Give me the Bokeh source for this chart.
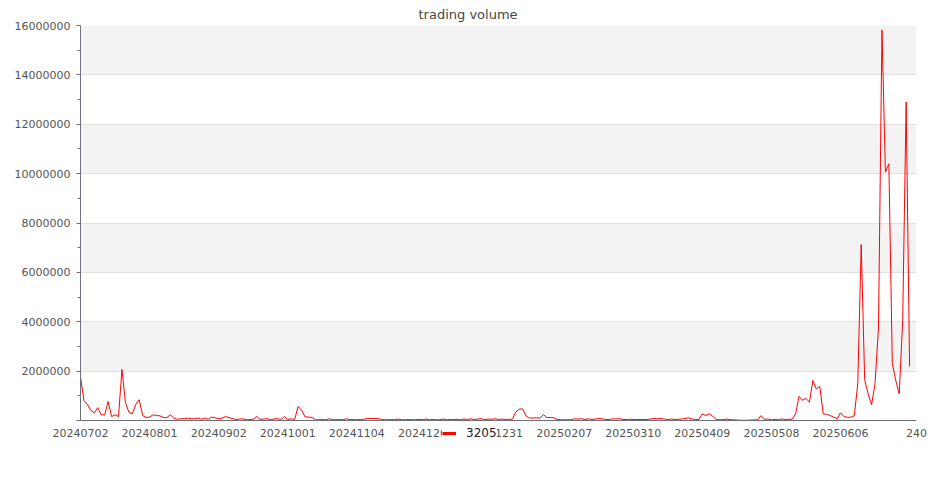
from bokeh.plotting import figure
from bokeh.models import (FixedTicker, Range1d, Legend, LegendItem, Span,
                          BoxAnnotation, ColumnDataSource, BasicTickFormatter)
from bokeh.embed import file_html
from bokeh.resources import INLINE

series_name = "3205"
title_text = "trading volume"

tick_index = [0, 20, 40, 60, 80, 100, 120, 140, 160, 180, 200, 220, 242]
tick_labels = ["20240702", "20240801", "20240902", "20241001", "20241104",
               "20241203", "20241231", "20250207", "20250310", "20250409",
               "20250508", "20250606", "240"]

volume = [
    1760000, 810000, 640000, 410000, 310000, 520000, 230000, 230000, 770000, 160000,
    230000, 160000, 2070000, 740000, 340000, 270000, 650000, 840000, 200000, 120000,
    140000, 230000, 200000, 190000, 120000, 120000, 230000, 100000, 50000, 70000,
    70000, 100000, 70000, 70000, 100000, 50000, 100000, 50000, 140000, 110000,
    70000, 100000, 160000, 110000, 80000, 40000, 60000, 70000, 30000, 40000,
    50000, 160000, 40000, 60000, 70000, 40000, 60000, 80000, 30000, 160000,
    40000, 70000, 40000, 570000, 420000, 150000, 140000, 120000, 30000, 30000,
    40000, 30000, 70000, 30000, 30000, 40000, 30000, 70000, 30000, 40000,
    30000, 40000, 50000, 80000, 80000, 80000, 80000, 50000, 30000, 30000,
    40000, 30000, 60000, 30000, 30000, 40000, 30000, 30000, 40000, 30000,
    60000, 30000, 40000, 30000, 30000, 60000, 30000, 40000, 30000, 50000,
    30000, 60000, 40000, 70000, 40000, 60000, 70000, 40000, 60000, 50000,
    70000, 40000, 60000, 40000, 50000, 50000, 340000, 460000, 470000, 180000,
    100000, 100000, 110000, 100000, 240000, 120000, 120000, 110000, 40000, 30000,
    30000, 30000, 30000, 70000, 60000, 70000, 40000, 70000, 40000, 60000,
    80000, 70000, 40000, 40000, 70000, 60000, 80000, 40000, 40000, 50000,
    40000, 40000, 40000, 40000, 40000, 60000, 80000, 70000, 80000, 60000,
    40000, 60000, 40000, 50000, 60000, 80000, 110000, 60000, 40000, 40000,
    270000, 200000, 270000, 180000, 40000, 30000, 30000, 60000, 30000, 30000,
    20000, 10000, 10000, 10000, 20000, 20000, 30000, 200000, 40000, 60000,
    30000, 40000, 30000, 60000, 40000, 50000, 50000, 270000, 980000, 820000,
    900000, 740000, 1620000, 1280000, 1380000, 270000, 250000, 200000, 140000, 70000,
    310000, 160000, 130000, 130000, 200000, 1490000, 7130000, 1650000, 1080000, 640000,
    1490000, 3780000, 15820000, 10060000, 10400000, 2300000, 1620000, 1080000, 4050000, 12900000,
    2190000,
]

y_ticks = [0, 2000000, 4000000, 6000000, 8000000, 10000000, 12000000, 14000000, 16000000]
y_minor = [1000000, 3000000, 5000000, 7000000, 9000000, 11000000, 13000000, 15000000]
y_top = 16000000
y_bottom = -1012658   # room under zero so the legend can sit among the x labels

FONT = "DejaVu Sans"
AXIS_COL = "#6E7079"
LABEL_COL = "#555555"
BAND_COL = "#f3f3f3"

src = ColumnDataSource(dict(x=list(range(len(volume))), y=volume))

p = figure(width=927, height=492, output_backend="svg", toolbar_location=None,
           x_range=Range1d(0, 242), y_range=Range1d(y_bottom, y_top),
           min_border_left=80, min_border_right=11, min_border_top=25,
           min_border_bottom=47, outline_line_color=None,
           background_fill_color="white", border_fill_color="white",
           title=title_text)

p.title.align = "left"
p.title.offset = 338
p.title.standoff = 8
p.title.text_font = FONT
p.title.text_font_size = "13px"
p.title.text_font_style = "normal"
p.title.text_color = "#464646"

# alternating horizontal bands between the y ticks (grey on 2-4M, 6-8M, ...)
for i in range(1, len(y_ticks) - 1, 2):
    p.add_layout(BoxAnnotation(bottom=y_ticks[i], top=y_ticks[i + 1],
                               fill_color=BAND_COL, fill_alpha=1.0,
                               line_color=None, level="image"))

r = p.line("x", "y", source=src, line_color="#ff0000", line_width=1)
nan = float("nan")
leg_r = p.line(x=[nan], y=[nan], line_color="#ff0000", line_width=3)

# x axis: sits at the frame bottom, labels pulled up under the zero line
xa = p.xaxis[0]
xa.ticker = FixedTicker(ticks=tick_index)
xa.major_label_overrides = {i: t for i, t in zip(tick_index, tick_labels)}
xa.major_tick_out = 0
xa.major_tick_in = 0
xa.minor_tick_out = 0
xa.minor_tick_in = 0
xa.axis_line_color = None
xa.major_label_text_font = FONT
xa.major_label_text_font_size = "11px"
xa.major_label_text_color = LABEL_COL
xa.major_label_standoff = -17

# visible category-axis line at zero
p.add_layout(Span(location=0, dimension="width", line_color=AXIS_COL,
                  line_width=1, level="guide"))

ya = p.yaxis[0]
ya.bounds = (0, y_top)
ya.ticker = FixedTicker(ticks=y_ticks, minor_ticks=y_minor)
ya.formatter = BasicTickFormatter(use_scientific=False)
ya.major_label_overrides = {0: ""}
ya.major_tick_out = 4
ya.major_tick_in = 0
ya.minor_tick_out = 3
ya.minor_tick_in = 0
ya.axis_line_color = AXIS_COL
ya.major_tick_line_color = AXIS_COL
ya.minor_tick_line_color = AXIS_COL
ya.major_label_text_font = FONT
ya.major_label_text_font_size = "11px"
ya.major_label_text_color = LABEL_COL
ya.major_label_standoff = 6

p.xgrid.grid_line_color = None
p.ygrid.ticker = FixedTicker(ticks=y_ticks)
p.ygrid.bounds = (0, y_top)
p.ygrid.grid_line_color = "#e0e0e0"
p.ygrid.band_fill_color = None

legend = Legend(items=[LegendItem(label=series_name, renderers=[leg_r])],
                location=(362, 5), orientation="horizontal",
                padding=0, margin=0, spacing=0,
                glyph_width=14, glyph_height=14, label_height=14,
                label_width=28, label_standoff=10, label_text_font=FONT,
                label_text_font_size="12px", label_text_color="#222222",
                background_fill_color="white", background_fill_alpha=1.0,
                border_line_color=None)
p.add_layout(legend, "center")

open("out.html", "w").write(file_html(p, INLINE))
